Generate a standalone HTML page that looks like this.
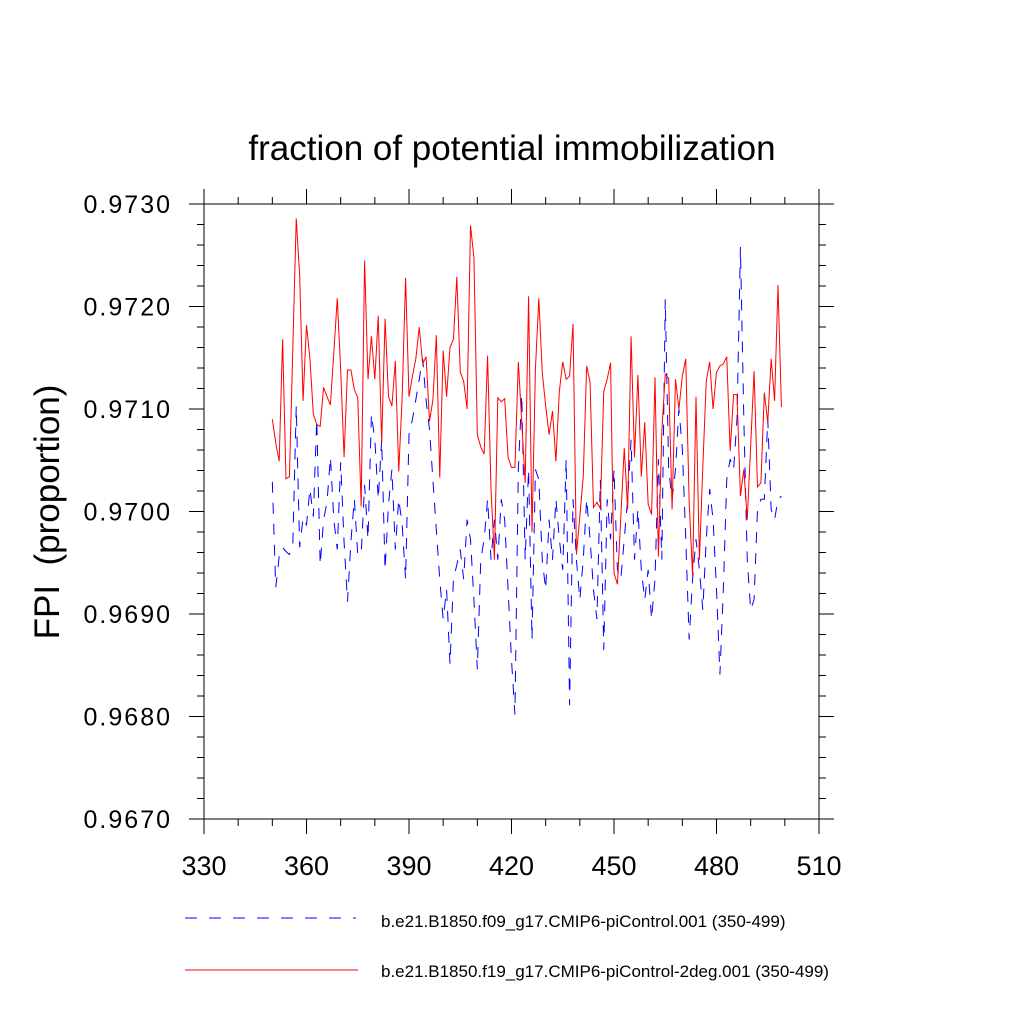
<!DOCTYPE html>
<html><head><meta charset="utf-8"><style>
body{margin:0;background:#fff;}
svg text{font-family:"Liberation Sans",sans-serif;}
</style></head><body>
<svg id="chart" width="1024" height="1024" xmlns="http://www.w3.org/2000/svg">
<rect width="1024" height="1024" fill="#fff"/>
<text x="512" y="160" font-size="35" text-anchor="middle">fraction of potential immobilization</text>
<text transform="translate(59,512) rotate(-90)" font-size="35" text-anchor="middle" xml:space="preserve">FPI  (proportion)</text>
<g id="axes"></g>
<g id="series"></g>
<g>
<line x1="185" y1="918" x2="356" y2="918" stroke="#0000ff" stroke-width="1" stroke-dasharray="12 12"/>
<text x="381" y="927" font-size="17">b.e21.B1850.f09_g17.CMIP6-piControl.001 (350-499)</text>
<line x1="185" y1="970" x2="358" y2="970" stroke="#ff0000" stroke-width="1"/>
<text x="381" y="977" font-size="17">b.e21.B1850.f19_g17.CMIP6-piControl-2deg.001 (350-499)</text>
</g>
</svg>
<script>
const startYear = 350;
const xTicks = [330,360,390,420,450,480,510];
const yTicks = [0.9670,0.9680,0.9690,0.9700,0.9710,0.9720,0.9730];
const yTickLabels = ["0.9670","0.9680","0.9690","0.9700","0.9710","0.9720","0.9730"];
const redSeries = [0.97090,0.97067,0.97049,0.97168,0.97032,0.97034,0.97160,0.97286,0.97230,0.97108,
0.97182,0.97149,0.97095,0.97085,0.97083,0.97121,0.97112,0.97104,0.97155,0.97208,
0.97139,0.97053,0.97138,0.97138,0.97119,0.97111,0.97005,0.97245,0.97129,0.97171,
0.97129,0.97191,0.97067,0.97188,0.97112,0.97103,0.97147,0.97039,0.97112,0.97228,
0.97112,0.97132,0.97149,0.97180,0.97144,0.97151,0.97088,0.97109,0.97172,0.97033,
0.97157,0.97112,0.97160,0.97168,0.97229,0.97136,0.97127,0.97100,0.97279,0.97248,
0.97075,0.97063,0.97056,0.97152,0.97022,0.96953,0.97111,0.97107,0.97110,0.97053,
0.97043,0.97043,0.97146,0.97087,0.97028,0.97210,0.96980,0.97139,0.97208,0.97136,
0.97103,0.97075,0.97098,0.97049,0.97117,0.97146,0.97129,0.97132,0.97183,0.96958,
0.96995,0.97034,0.97142,0.97126,0.97004,0.97009,0.97003,0.97117,0.97129,0.97145,
0.96940,0.96929,0.96995,0.97062,0.97002,0.97171,0.97053,0.97133,0.97034,0.97087,
0.97007,0.96997,0.97131,0.96956,0.97078,0.97134,0.97130,0.97002,0.97129,0.97100,
0.97132,0.97149,0.97009,0.96937,0.97112,0.96953,0.97044,0.97127,0.97146,0.97100,
0.97136,0.97142,0.97144,0.97151,0.97059,0.97114,0.97114,0.97015,0.97041,0.96992,
0.97064,0.97137,0.97024,0.97028,0.97116,0.97087,0.97149,0.97108,0.97221,0.97102];
const blueSeries = [0.97029,0.96926,0.96956,0.96965,0.96961,0.96958,0.96968,0.97103,0.96965,0.96994,
0.96987,0.97022,0.96995,0.97090,0.96948,0.96992,0.97009,0.97053,0.96992,0.96963,
0.97048,0.96970,0.96912,0.96971,0.97012,0.96958,0.96958,0.97026,0.96973,0.97095,
0.97070,0.97012,0.97070,0.96943,0.97007,0.97041,0.96963,0.97012,0.96987,0.96934,
0.97075,0.97090,0.97109,0.97129,0.97149,0.97109,0.97080,0.97031,0.96982,0.96934,
0.96895,0.96924,0.96851,0.96934,0.96948,0.96963,0.96934,0.96992,0.96973,0.96914,
0.96846,0.96953,0.96973,0.97012,0.96953,0.96992,0.96953,0.97012,0.96992,0.96924,
0.96855,0.96802,0.97041,0.97114,0.96953,0.97041,0.96875,0.97041,0.97031,0.96953,
0.96924,0.96992,0.96953,0.97012,0.96973,0.96943,0.97051,0.96811,0.97012,0.96953,
0.96914,0.96953,0.97012,0.96973,0.96924,0.96895,0.97031,0.96865,0.97012,0.96973,
0.97041,0.96943,0.96934,0.96973,0.97012,0.97070,0.96953,0.97002,0.96943,0.96914,
0.96943,0.96895,0.96934,0.97051,0.96953,0.97207,0.97041,0.97012,0.97041,0.97100,
0.97061,0.96973,0.96875,0.96934,0.96973,0.96943,0.96904,0.96973,0.97022,0.96992,
0.96924,0.96841,0.96924,0.97031,0.97051,0.97041,0.97090,0.97258,0.97090,0.96953,
0.96904,0.96914,0.97002,0.97012,0.97012,0.97090,0.97002,0.96992,0.97012,0.97015];

const L=204,R=819,T=204,B=819;
const xMin=330,xMax=510,yMin=0.9670,yMax=0.9730;
function xs(v){return L+(v-xMin)/(xMax-xMin)*(R-L);}
function ys(v){return B-(v-yMin)/(yMax-yMin)*(B-T);}
const NS="http://www.w3.org/2000/svg";
const axes=document.getElementById('axes');
function ln(x1,y1,x2,y2,name){const e=document.createElementNS(NS,'line');
e.setAttribute('x1',x1);e.setAttribute('y1',y1);e.setAttribute('x2',x2);e.setAttribute('y2',y2);
e.setAttribute('stroke','#000');e.setAttribute('stroke-width','1');


axes.appendChild(e);return e;}
const fr=document.createElementNS(NS,'rect');
fr.setAttribute('x',L);fr.setAttribute('y',T);fr.setAttribute('width',R-L);fr.setAttribute('height',B-T);
fr.setAttribute('fill','none');fr.setAttribute('stroke','#000');


axes.appendChild(fr);
for(let v=xMin;v<=xMax;v+=10){const x=xs(v);const major=xTicks.includes(v);const len=major?15:7;
ln(x,B,x,B+len,'x-tick');ln(x,T,x,T-len,'x-tick-top');}
xTicks.forEach(v=>{const t=document.createElementNS(NS,'text');t.setAttribute('x',xs(v));t.setAttribute('y',B+56);
t.setAttribute('font-size','27');t.setAttribute('text-anchor','middle');t.textContent=String(v);


axes.appendChild(t);});
for(let i=0;i<=30;i++){const v=yMin+i*0.0002;const y=ys(v);const len=(i%5===0)?15:7;
ln(L,y,L-len,y,'y-tick');ln(R,y,R+len,y,'y-tick-right');}
yTicks.forEach((v,i)=>{const t=document.createElementNS(NS,'text');t.setAttribute('x',L-32);t.setAttribute('y',ys(v)+9);
t.setAttribute('font-size','25');t.setAttribute('letter-spacing','2');t.setAttribute('text-anchor','end');t.textContent=yTickLabels[i];


axes.appendChild(t);});
const series=document.getElementById('series');
function drawLine(arr,color,dash,name){const p=document.createElementNS(NS,'polyline');
p.setAttribute('points',arr.map((v,i)=>xs(startYear+i).toFixed(2)+','+ys(v).toFixed(2)).join(' '));
p.setAttribute('fill','none');p.setAttribute('stroke',color);p.setAttribute('stroke-width','1');
if(dash)p.setAttribute('stroke-dasharray',dash);


series.appendChild(p);}
drawLine(blueSeries,'#0000ff','11 10','series-f09-line');
drawLine(redSeries,'#ff0000',null,'series-f19-line');
</script>
</body></html>
